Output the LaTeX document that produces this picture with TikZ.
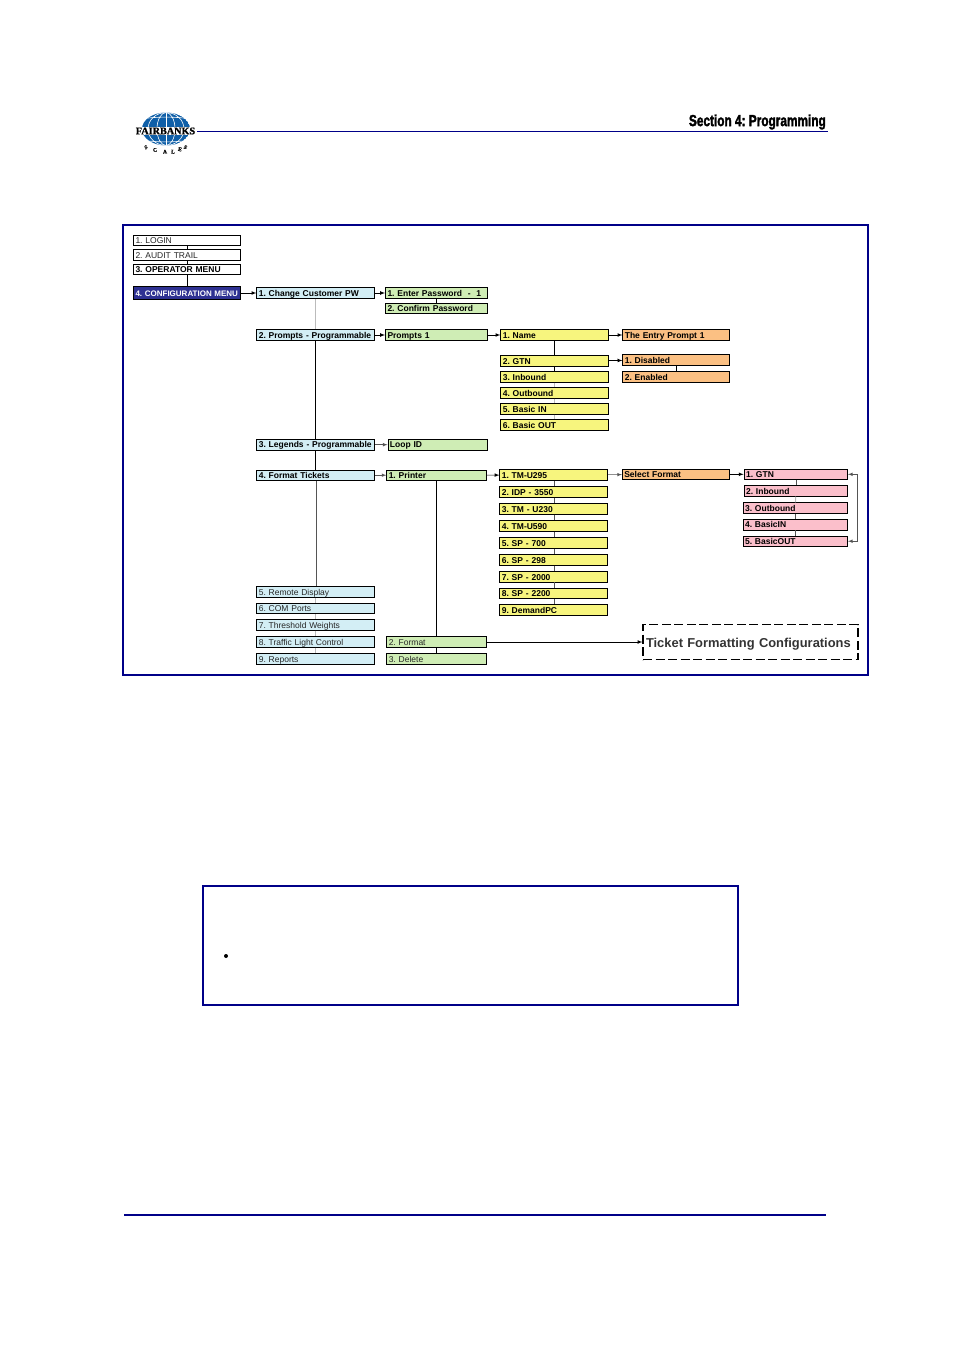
\documentclass[tikz,border=0pt]{standalone}
\usepackage{xcolor}
\usepackage{fontspec}
\setmainfont{Liberation Sans}
\newfontfamily\headfont[FakeStretch=0.74,FakeBold=2]{Liberation Sans Bold}
\newfontfamily\logofont[FakeBold=1]{Liberation Serif}
\usetikzlibrary{arrows,positioning,shapes}
\definecolor{framenavy}{HTML}{000088}
\definecolor{confignavy}{HTML}{2E3192}
\definecolor{menublue}{HTML}{D3EEF5}
\definecolor{menugreen}{HTML}{CFEDB5}
\definecolor{menuyellow}{HTML}{F7F57E}
\definecolor{menuorange}{HTML}{FBC083}
\definecolor{menupink}{HTML}{FBBFCB}
\definecolor{logoblue}{HTML}{0F5FA8}
\definecolor{thinline}{HTML}{555555}
\definecolor{paleline}{HTML}{BBBBBB}
\frenchspacing

\begin{document}
\begin{tikzpicture}[x=1pt, y=-1pt, >=latex,
                    box/.style={draw, line width=0.8pt, text=black, inner xsep=2pt, inner ysep=0pt, minimum height=10.5pt,
                                text height=7.5pt, text depth=1pt, align=left, text width=#1-5pt,
                                font=\fontsize{8.5}{9}\selectfont\bfseries},
                    light/.style={font=\fontsize{8.5}{9}\selectfont, text=black!85},
                    bluebox/.style={box=119pt, fill=menublue},
                    greenbox/.style={box=#1, fill=menugreen},
                    yellowbox/.style={box=109pt, fill=menuyellow},
                    orangebox/.style={box=108pt, fill=menuorange},
                    pinkbox/.style={box=#1, fill=menupink},
                    scalesletter/.style={inner sep=0pt, font=\logofont\bfseries\fontsize{5.5}{6}\selectfont},
                    link/.style={line width=0.7pt},
                    thinlink/.style={line width=0.6pt, color=thinline},
                    palelink/.style={line width=1pt, color=paleline}]
                        \useasboundingbox (0, 0) rectangle (954, 1351);
                        % page furniture
                        \draw [color=framenavy, line width=1pt] (197, 131.5) -- (828, 131.5);
                        \draw [color=framenavy, line width=1.3pt] (124, 1215) -- (826, 1215);
                        \draw [color=framenavy, line width=2pt] (122.5, 224.5) rectangle (868, 675);
                        \draw [color=framenavy, line width=1.8pt] (203, 886) rectangle (738, 1005);
                        \fill (226, 956) circle (2);
                        \node[anchor=east, inner sep=0pt, font=\headfont\fontsize{16}{17}\selectfont] (section) at (826, 122) {Section 4: Programming};
                        % logo
                        \begin{scope}
                        \clip (166, 129) ellipse (24 and 16.5);
                        \fill[color=logoblue] (166, 129) ellipse (24 and 16.5);
                        \draw[color=white, line width=0.6pt] (166, 129) ellipse (9 and 16.5);
                        \draw[color=white, line width=0.6pt] (166, 129) ellipse (18 and 16.5);
                        \draw[color=white, line width=0.6pt] (166, 112) -- (166, 146);
                        \draw[color=white, line width=0.6pt] (141, 119) .. controls (156, 116.5) and (176, 116.5) .. (191, 119);
                        \draw[color=white, line width=0.6pt] (141, 140) .. controls (156, 142.5) and (176, 142.5) .. (191, 140);
                        \fill[color=white] (141, 127) rectangle (191, 135.5);
                        \end{scope}
                        \node[inner sep=0pt, font=\logofont\bfseries\fontsize{10.2}{11}\selectfont] (fairbanks) at (165.5, 131) {FAIRBANKS};
                        \node[scalesletter, rotate=24] (logos) at (146, 147.3) {S};
                        \node[scalesletter, rotate=12] (logoc) at (155, 150) {C};
                        \node[scalesletter, rotate=3] (logoa) at (165, 151.7) {A};
                        \node[scalesletter, rotate=-5] (logol) at (173, 151.7) {L};
                        \node[scalesletter, rotate=-13] (logoe) at (180, 149.3) {E};
                        \node[scalesletter, rotate=-24] (logoz) at (185.5, 147.3) {S};
                        % first column
                        \node[box=108pt, fill=white, light] (login) at (187, 240.5) {1. LOGIN};
                        \node[box=108pt, fill=white, light] (audit) at (187, 255) {2. AUDIT TRAIL};
                        \node[box=108pt, fill=white] (operator) at (187, 269.5) {3. OPERATOR MENU};
                        \node[box=108pt, fill=confignavy, text=white, minimum height=13pt, font=\fontsize{8}{9}\selectfont\bfseries] (config) at (187, 293) {4. CONFIGURATION MENU};
                        % second column
                        \node[bluebox] (change) at (315.8, 293) {1. Change Customer PW};
                        \node[bluebox] (prompts) at (315.8, 335) {2. Prompts - Programmable};
                        \node[bluebox] (legends) at (315.8, 444.7) {3. Legends - Programmable};
                        \node[bluebox] (tickets) at (315.8, 475.2) {4. Format Tickets};
                        \node[bluebox, light] (remote) at (315.8, 592) {5. Remote Display};
                        \node[bluebox, light] (com) at (315.8, 608.5) {6. COM Ports};
                        \node[bluebox, light] (threshold) at (315.8, 625) {7. Threshold Weights};
                        \node[bluebox, light] (traffic) at (315.8, 642) {8. Traffic Light Control};
                        \node[bluebox, light] (reports) at (315.8, 659) {9. Reports};
                        % third column
                        \node[greenbox=103pt] (enter) at (436.5, 293) {1. Enter Password\ \ -\ \ 1};
                        \node[greenbox=103pt] (confirm) at (436.5, 308.5) {2. Confirm Password};
                        \node[greenbox=103pt] (promptone) at (436.5, 335) {Prompts 1};
                        \node[greenbox=100.5pt] (loopid) at (437.7, 444.7) {Loop ID};
                        \node[greenbox=100.5pt] (printer) at (436.5, 475.2) {1. Printer};
                        \node[greenbox=100.5pt, light] (format) at (436.5, 642) {2. Format};
                        \node[greenbox=100.5pt, light] (delete) at (436.5, 659) {3. Delete};
                        % fourth column
                        \node[yellowbox] (name) at (554.8, 335) {1. Name};
                        \node[yellowbox] (gtn) at (554.8, 361) {2. GTN};
                        \node[yellowbox] (inbound) at (554.8, 377) {3. Inbound};
                        \node[yellowbox] (outbound) at (554.8, 393) {4. Outbound};
                        \node[yellowbox] (basicin) at (554.8, 409) {5. Basic IN};
                        \node[yellowbox] (basicout) at (554.8, 425) {6. Basic OUT};
                        \node[yellowbox] (tmufirst) at (553.8, 475) {1. TM-U295};
                        \node[yellowbox] (idp) at (553.8, 492) {2. IDP - 3550};
                        \node[yellowbox] (tmusecond) at (553.8, 509) {3. TM - U230};
                        \node[yellowbox] (tmuthird) at (553.8, 526) {4. TM-U590};
                        \node[yellowbox] (spfirst) at (553.8, 543) {5. SP - 700};
                        \node[yellowbox] (spsecond) at (553.8, 560) {6. SP - 298};
                        \node[yellowbox] (spthird) at (553.8, 576.8) {7. SP - 2000};
                        \node[yellowbox] (spfourth) at (553.8, 593.3) {8. SP - 2200};
                        \node[yellowbox] (demand) at (553.8, 610) {9. DemandPC};
                        % fifth column
                        \node[orangebox] (entry) at (676.3, 335) {The Entry Prompt 1};
                        \node[orangebox] (disabled) at (676.3, 360) {1. Disabled};
                        \node[orangebox] (enabled) at (676.3, 377) {2. Enabled};
                        \node[orangebox] (select) at (675.8, 474.3) {Select Format};
                        % sixth column
                        \node[pinkbox=104.5pt] (pinkgtn) at (795.8, 474.3) {1. GTN};
                        \node[pinkbox=104.5pt] (pinkin) at (795.8, 491) {2. Inbound};
                        \node[pinkbox=105.5pt] (pinkout) at (795.3, 508) {3. Outbound};
                        \node[pinkbox=105.5pt] (pinkbasicin) at (795.3, 524.7) {4. BasicIN};
                        \node[pinkbox=105.5pt] (pinkbasicout) at (795.3, 541.2) {5. BasicOUT};
                        \node[draw, dashed, line width=1.1pt, dash pattern=on 9pt off 3.5pt, inner xsep=3pt, inner ysep=0pt, minimum height=35pt,
                              text width=209pt, text height=12pt, text depth=1pt, align=left,
                              text=black!80, font=\fontsize{12.9}{14}\selectfont\bfseries] (ticket) at (750.5, 642) {Ticket Formatting Configurations};
                        \coordinate (loopside) at (857, 508);
                        % vertical links
                        \draw [link] (login) -- (audit);
                        \draw [link] (audit) -- (operator);
                        \draw [link] (operator) -- (config);
                        \draw [palelink] (change) -- (prompts);
                        \draw [link] (prompts) -- (legends);
                        \draw [link] (legends) -- (tickets);
                        \draw [thinlink] (tickets) -- (remote);
                        \draw [palelink] (remote) -- (com);
                        \draw [palelink] (com) -- (threshold);
                        \draw [palelink] (threshold) -- (traffic);
                        \draw [palelink] (traffic) -- (reports);
                        \draw [link] (enter) -- (confirm);
                        \draw [link] (printer) -- (format);
                        \draw [link] (format) -- (delete);
                        \draw [link] (name) -- (gtn);
                        \draw [link] (gtn) -- (inbound);
                        \draw [palelink] (inbound) -- (outbound);
                        \draw [palelink] (outbound) -- (basicin);
                        \draw [palelink] (basicin) -- (basicout);
                        \draw [thinlink] (tmufirst) -- (idp);
                        \draw [thinlink] (idp) -- (tmusecond);
                        \draw [thinlink] (tmusecond) -- (tmuthird);
                        \draw [thinlink] (tmuthird) -- (spfirst);
                        \draw [thinlink] (spfirst) -- (spsecond);
                        \draw [thinlink] (spsecond) -- (spthird);
                        \draw [thinlink] (spthird) -- (spfourth);
                        \draw [thinlink] (spfourth) -- (demand);
                        \draw [link] (disabled) -- (enabled);
                        \draw [thinlink] (pinkgtn) -- (pinkin);
                        \draw [palelink] (pinkin) -- (pinkout);
                        \draw [thinlink] (pinkout) -- (pinkbasicin);
                        \draw [thinlink] (pinkbasicin) -- (pinkbasicout);
                        % arrows
                        \draw [->, link] (config) -- (change);
                        \draw [->, link] (change) -- (enter);
                        \draw [->, link] (prompts) -- (promptone);
                        \draw [->, link] (promptone) -- (name);
                        \draw [->, link] (name) -- (entry);
                        \draw [->, link] (gtn) -- (disabled);
                        \draw [->, thinlink] (legends) -- (loopid);
                        \draw [->, thinlink] (tickets) -- (printer);
                        \draw [->, link] (printer) -- (tmufirst);
                        \draw [->, thinlink] (tmufirst) -- (select);
                        \draw [->, link] (select) -- (pinkgtn);
                        \draw [->, link] (format) -- (ticket);
                        \draw [<->, thinlink] (pinkgtn) -| (loopside) |- (pinkbasicout);
                        \end{tikzpicture}
\end{document}
